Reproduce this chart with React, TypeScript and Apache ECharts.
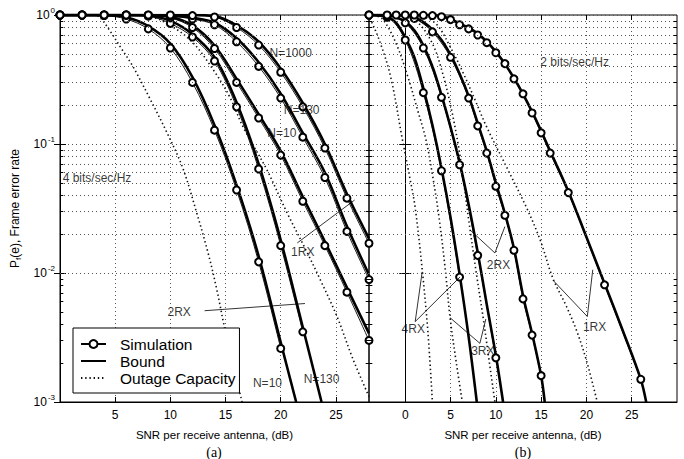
import React, { useEffect, useRef } from "react";
import * as echarts from "echarts";

const FONT = '"Liberation Sans", Arial, Helvetica, sans-serif';
const SERIF = '"Liberation Serif", "DejaVu Serif", serif';

// ---------- Panel (a): 4 bits/sec/Hz ----------
const snrA = [0, 2, 4, 6, 8, 10, 12, 14, 16, 18, 20, 22, 24, 26, 28];
const simA2rxN10 = [1, 1, 0.99, 0.93, 0.78, 0.555, 0.3, 0.128, 0.044, 0.0122, 0.0026];
const simA2rxN130 = [1, 1, 1, 1, 0.98, 0.86, 0.675, 0.44, 0.194, 0.064, 0.0163, 0.0035];
const simA1rxN10 = [1, 1, 1, 1, 0.99, 0.95, 0.8, 0.55, 0.3, 0.159, 0.082, 0.036, 0.0163, 0.0071, 0.003];
const simA1rxN130 = [1, 1, 1, 1, 1, 0.98, 0.93, 0.84, 0.62, 0.4, 0.227, 0.113, 0.055, 0.021, 0.0089];
const simA1rxN1000 = [1, 1, 1, 1, 1, 1, 0.99, 0.965, 0.8, 0.585, 0.36, 0.194, 0.093, 0.038, 0.017];

const bndA2rxN10X = [0, 2, 4, 6, 8, 10, 12, 14, 16, 18, 20, 21.4];
const bndA2rxN10 = [1, 1, 1, 0.96, 0.82, 0.6, 0.33, 0.14, 0.048, 0.0135, 0.0029, 0.001];
const bndA2rxN130X = [0, 2, 4, 6, 8, 10, 12, 14, 16, 18, 20, 22, 23.7];
const bndA2rxN130 = [1, 1, 1, 1, 0.99, 0.9, 0.71, 0.47, 0.21, 0.07, 0.018, 0.0038, 0.001];
const bndA1rxN10 = [1, 1, 1, 1, 1, 0.97, 0.83, 0.58, 0.32, 0.17, 0.088, 0.039, 0.0175, 0.0077, 0.0034];
const bndA1rxN130 = [1, 1, 1, 1, 1, 0.99, 0.95, 0.87, 0.66, 0.43, 0.245, 0.122, 0.06, 0.023, 0.0097];
const bndA1rxN1000 = [1, 1, 1, 1, 1, 1, 1, 0.98, 0.83, 0.62, 0.385, 0.208, 0.1, 0.041, 0.0185];

const outA2rxX = [3, 3.6, 4.5, 5.5, 6.6, 8.2, 9.7, 11.1, 12.4, 13.4, 14.2, 14.9, 15.7, 16.5];
const outA2rx = [1, 0.96, 0.76, 0.56, 0.4, 0.22, 0.122, 0.066, 0.029, 0.0145, 0.0075, 0.0038, 0.0019, 0.001];
const outA1rxX = [7.5, 9.1, 11.8, 13.9, 15.4, 16.6, 18.75, 20.6, 22.4, 23.6, 25.1, 26.5, 28];
const outA1rx = [1, 0.915, 0.64, 0.375, 0.23, 0.135, 0.063, 0.029, 0.0144, 0.0088, 0.0046, 0.0022, 0.0011];

// ---------- Panel (b): 2 bits/sec/Hz ----------
const snrB4 = [-4, -2, 0, 2, 4, 6];
const simB4rx = [1, 0.96, 0.64, 0.25, 0.062, 0.0093];
const snrB3 = [-4, -2, 0, 2, 4, 6, 8, 10];
const simB3rx = [1, 0.99, 0.87, 0.555, 0.23, 0.069, 0.0137, 0.0022];
const snrB2 = [-4, -2, -1, 1, 3, 5, 7, 8, 9, 10, 11, 12, 13, 14, 15];
const simB2rx = [1, 1, 1, 0.94, 0.74, 0.47, 0.227, 0.138, 0.085, 0.047, 0.028, 0.015, 0.0063, 0.0033, 0.0016];
const snrB1 = [0, 1, 2, 3, 4, 5, 6, 7, 8, 9, 10, 11, 12, 13, 14, 15, 16, 18, 22, 26];
const simB1rx = [1, 1, 0.995, 0.99, 0.97, 0.92, 0.84, 0.78, 0.7, 0.61, 0.51, 0.42, 0.32, 0.245, 0.174, 0.122, 0.085, 0.042, 0.0081, 0.0015];

const bndB4X = [-4, -3, -2, -1, 0, 1, 2, 3, 4, 5, 6, 7, 7.9];
const bndB4 = [1, 0.99, 0.97, 0.87, 0.67, 0.47, 0.27, 0.14, 0.065, 0.027, 0.0098, 0.0032, 0.001];
const bndB3X = [-4, -2, -1, 0, 1, 2, 3, 4, 5, 6, 7, 8, 9, 10, 10.8];
const bndB3 = [1, 1, 0.96, 0.89, 0.76, 0.58, 0.4, 0.24, 0.135, 0.072, 0.034, 0.0145, 0.0057, 0.0023, 0.001];
const bndB2X = [-4, -1, 0, 1, 2, 3, 4, 5, 6, 7, 8, 9, 10, 11, 12, 13, 14, 15, 15.4];
const bndB2 = [1, 1, 0.99, 0.96, 0.88, 0.77, 0.64, 0.49, 0.35, 0.235, 0.145, 0.088, 0.05, 0.029, 0.0155, 0.0067, 0.0034, 0.0016, 0.001];
const bndB1X = [-4, 0, 2, 4, 6, 8, 10, 12, 14, 16, 18, 20, 22, 24, 26, 26.6];
const bndB1 = [1, 1, 1, 0.98, 0.86, 0.72, 0.52, 0.325, 0.178, 0.088, 0.043, 0.019, 0.0083, 0.0036, 0.0015, 0.001];

const outB4X = [-4.2, -3.8, -2.8, -1.6, -0.3, 0.5, 1.1, 1.9, 2.5, 3];
const outB4 = [1, 0.91, 0.62, 0.33, 0.107, 0.055, 0.032, 0.0102, 0.0035, 0.001];
const outB3X = [-3.5, -2.5, -1, 0.3, 1.3, 2.3, 3, 3.7, 4.4, 4.95, 5.6, 6.3];
const outB3 = [1, 0.93, 0.6, 0.33, 0.19, 0.107, 0.058, 0.028, 0.011, 0.0045, 0.0021, 0.001];
const outB2X = [-1.5, 0, 1.5, 3, 4, 5, 6, 7, 7.8, 8.6, 9.3, 9.9];
const outB2 = [1, 0.97, 0.86, 0.6, 0.38, 0.2, 0.085, 0.026, 0.0105, 0.0045, 0.002, 0.001];
const outB1X = [0, 2, 3.5, 5, 6.4, 7.7, 9, 11.2, 13.4, 14.9, 16.3, 17.8, 18.9, 20, 21.2];
const outB1 = [1, 0.97, 0.84, 0.56, 0.355, 0.22, 0.135, 0.066, 0.032, 0.018, 0.0091, 0.0055, 0.0036, 0.0021, 0.001];

// ---------- Annotations (data coordinates) ----------
const textA = ["4 bits/sec/Hz", "N=1000", "N=130", "N=10", "1RX", "2RX", "N=10", "N=130"];
const textAX = [3.35, 20.9, 21.9, 20.1, 22.0, 10.8, 18.8, 23.7];
const textAY = [0.0546, 0.508, 0.183, 0.122, 0.0145, 0.005, 0.00141, 0.00151];
const textB = ["2 bits/sec/Hz", "4RX", "3RX", "2RX", "1RX"];
const textBX = [18.7, 0.88, 8.57, 10.3, 20.9];
const textBY = [0.432, 0.00365, 0.0025, 0.0116, 0.0038];

const leadersA: number[][][] = [
  [[21.5, 0.0171], [26.7, 0.0368]],
  [[13.1, 0.0051], [22.2, 0.0058]],
];
const leadersB: number[][][] = [
  [[1.87, 0.0102], [1.1, 0.0042], [6.04, 0.0093]],
  [[4.95, 0.0045], [8.24, 0.00285], [8.9, 0.0044]],
  [[7.14, 0.0216], [9.9, 0.0143], [11.0, 0.0229]],
  [[16.3, 0.0088], [20.1, 0.0046], [20.7, 0.0106]],
];

const tickValsA = [5, 10, 15, 20, 25];
const tickValsB = [0, 5, 10, 15, 20, 25];

// x extents of each panel and the length of the short minor ticks (in dB)
const rangeA: [number, number] = [0, 28];
const rangeB: [number, number] = [-4, 30];
const minorTickLenA = 0.3;
const minorTickLenB = 0.37;

const zip = (xs: number[], ys: number[]) => ys.map((y, i) => [xs[i], y]);

const minorGrid: number[] = [];
for (const dec of [0.001, 0.01, 0.1]) {
  for (let m = 2; m <= 9; m++) minorGrid.push(Number((m * dec).toPrecision(3)));
}

const GRID_LINE = { type: [1, 3] as any, color: "#555", width: 1 };
const SMOOTH = 0.35;

function simSeries(xs: number[], ys: number[], g: number) {
  return {
    type: "line",
    name: "Simulation",
    xAxisIndex: g,
    yAxisIndex: g,
    data: zip(xs, ys),
    symbol: "emptyCircle",
    symbolSize: 7,
    smooth: SMOOTH,
    lineStyle: { color: "#000", width: 0.9 },
    itemStyle: { color: "#000", borderColor: "#000", borderWidth: 0.9 },
    z: 4,
    silent: true,
  };
}

function boundSeries(xs: number[], ys: number[], g: number) {
  return {
    type: "line",
    name: "Bound",
    xAxisIndex: g,
    yAxisIndex: g,
    data: zip(xs, ys),
    symbol: "none",
    showSymbol: false,
    smooth: SMOOTH,
    lineStyle: { color: "#000", width: 2.6 },
    itemStyle: { color: "#000" },
    z: 3,
    silent: true,
  };
}

function outageSeries(xs: number[], ys: number[], g: number) {
  return {
    type: "line",
    name: "Outage Capacity",
    xAxisIndex: g,
    yAxisIndex: g,
    data: zip(xs, ys),
    symbol: "none",
    showSymbol: false,
    smooth: SMOOTH,
    lineStyle: { color: "#111", width: 1.6, type: [1.4, 2.8] },
    itemStyle: { color: "#111" },
    z: 3,
    silent: true,
  };
}

function leaderSeries(pts: number[][], g: number) {
  return {
    type: "line",
    name: "leader",
    xAxisIndex: g,
    yAxisIndex: g,
    data: pts,
    symbol: "none",
    showSymbol: false,
    lineStyle: { color: "#000", width: 0.8 },
    z: 5,
    silent: true,
  };
}

function textSeries(texts: string[], xs: number[], ys: number[], g: number) {
  return {
    type: "scatter",
    name: "notes",
    xAxisIndex: g,
    yAxisIndex: g,
    symbolSize: 1,
    itemStyle: { color: "transparent" },
    data: texts.map((t, i) => ({ value: [xs[i], ys[i]], name: t })),
    label: {
      show: true,
      position: "inside",
      formatter: "{b}",
      color: "#000",
      fontSize: 12,
      fontFamily: FONT,
    },
    z: 6,
    silent: true,
  };
}

// dotted minor grid lines plus short inside minor ticks on both vertical edges
function gridHelper(g: number, range: [number, number], len: number) {
  const ticks: any[] = [];
  for (const v of minorGrid) {
    ticks.push([{ coord: [range[0], v] }, { coord: [range[0] + len, v] }]);
    ticks.push([{ coord: [range[1] - len, v] }, { coord: [range[1], v] }]);
  }
  return [
    {
      type: "line",
      name: "minor-grid",
      xAxisIndex: g,
      yAxisIndex: g,
      data: [],
      markLine: {
        silent: true,
        symbol: ["none", "none"],
        label: { show: false },
        lineStyle: GRID_LINE,
        data: minorGrid.map((v) => ({ yAxis: v })),
      },
    },
    {
      type: "line",
      name: "minor-ticks",
      xAxisIndex: g,
      yAxisIndex: g,
      data: [],
      markLine: {
        silent: true,
        symbol: ["none", "none"],
        label: { show: false },
        lineStyle: { type: "solid", color: "#000", width: 1 },
        data: ticks,
      },
    },
  ];
}

const yLabel = (v: number) => `{b|10}{s|${Math.round(Math.log10(v))}}`;

function xAxisBottom(g: number, range: [number, number], ticks: number[]) {
  return {
    type: "value",
    gridIndex: g,
    min: range[0],
    max: range[1],
    position: "bottom",
    name: "SNR per receive antenna, (dB)",
    nameLocation: "middle",
    nameGap: 27,
    nameTextStyle: { fontFamily: FONT, fontSize: 11.5, color: "#000" },
    axisLine: { show: true, lineStyle: { color: "#000", width: 1 } },
    axisTick: { show: true, inside: true, length: 5, customValues: ticks, lineStyle: { color: "#000" } },
    axisLabel: { show: true, customValues: ticks, color: "#000", fontFamily: FONT, fontSize: 12, margin: 7 },
    splitLine: { show: true, lineStyle: GRID_LINE },
  };
}

function xAxisTop(g: number, range: [number, number], ticks: number[]) {
  return {
    type: "value",
    gridIndex: g,
    min: range[0],
    max: range[1],
    position: "top",
    axisLine: { show: false },
    axisTick: { show: true, inside: true, length: 5, customValues: ticks, lineStyle: { color: "#000" } },
    axisLabel: { show: false },
    splitLine: { show: false },
  };
}

function yAxisLeft(g: number, labels: boolean) {
  return {
    type: "log",
    logBase: 10,
    gridIndex: g,
    min: 0.001,
    max: 1,
    position: "left",
    name: labels ? "{t|P}{s|f}{t|(e), Frame error rate}" : "",
    nameLocation: "middle",
    nameGap: 38,
    nameTextStyle: {
      rich: {
        t: { fontFamily: FONT, fontSize: 12, color: "#000" },
        s: { fontFamily: FONT, fontSize: 8, color: "#000", padding: [7, 0, 0, 0] },
      },
    },
    axisLine: { show: true, lineStyle: { color: "#000", width: 1 } },
    axisTick: { show: true, inside: true, length: 6, lineStyle: { color: "#000" } },
    axisLabel: {
      show: labels,
      formatter: yLabel,
      margin: 5,
      rich: {
        b: { fontFamily: FONT, fontSize: 12, color: "#000" },
        s: { fontFamily: FONT, fontSize: 8, color: "#000", padding: [0, 0, 9, 1] },
      },
    },
    splitLine: { show: true, lineStyle: GRID_LINE },
  };
}

function yAxisRight(g: number) {
  return {
    type: "log",
    logBase: 10,
    gridIndex: g,
    min: 0.001,
    max: 1,
    position: "right",
    axisLine: { show: false },
    axisTick: { show: true, inside: true, length: 6, lineStyle: { color: "#000" } },
    axisLabel: { show: false },
    splitLine: { show: false },
  };
}

function buildOption(): any {
  const series: any[] = [
    ...gridHelper(0, rangeA, minorTickLenA),
    ...gridHelper(1, rangeB, minorTickLenB),
    // panel (a)
    outageSeries(outA2rxX, outA2rx, 0),
    outageSeries(outA1rxX, outA1rx, 0),
    boundSeries(bndA2rxN10X, bndA2rxN10, 0),
    boundSeries(bndA2rxN130X, bndA2rxN130, 0),
    boundSeries(snrA, bndA1rxN10, 0),
    boundSeries(snrA, bndA1rxN130, 0),
    boundSeries(snrA, bndA1rxN1000, 0),
    simSeries(snrA, simA2rxN10, 0),
    simSeries(snrA, simA2rxN130, 0),
    simSeries(snrA, simA1rxN10, 0),
    simSeries(snrA, simA1rxN130, 0),
    simSeries(snrA, simA1rxN1000, 0),
    // panel (b)
    outageSeries(outB4X, outB4, 1),
    outageSeries(outB3X, outB3, 1),
    outageSeries(outB2X, outB2, 1),
    outageSeries(outB1X, outB1, 1),
    boundSeries(bndB4X, bndB4, 1),
    boundSeries(bndB3X, bndB3, 1),
    boundSeries(bndB2X, bndB2, 1),
    boundSeries(bndB1X, bndB1, 1),
    simSeries(snrB4, simB4rx, 1),
    simSeries(snrB3, simB3rx, 1),
    simSeries(snrB2, simB2rx, 1),
    simSeries(snrB1, simB1rx, 1),
    ...leadersA.map((p) => leaderSeries(p, 0)),
    ...leadersB.map((p) => leaderSeries(p, 1)),
    textSeries(textA, textAX, textAY, 0),
    textSeries(textB, textBX, textBY, 1),
  ];

  return {
    animation: false,
    backgroundColor: "#fff",
    textStyle: { fontFamily: FONT },
    grid: [
      { left: 60, top: 15, width: 309, height: 387, show: true, borderColor: "#000", borderWidth: 1, backgroundColor: "transparent" },
      { left: 369, top: 15, width: 308, height: 387, show: true, borderColor: "#000", borderWidth: 1, backgroundColor: "transparent" },
    ],
    xAxis: [
      xAxisBottom(0, rangeA, tickValsA),
      xAxisBottom(1, rangeB, tickValsB),
      xAxisTop(0, rangeA, tickValsA),
      xAxisTop(1, rangeB, tickValsB),
    ],
    yAxis: [yAxisLeft(0, true), yAxisLeft(1, false), yAxisRight(0), yAxisRight(1)],
    legend: {
      data: [
        { name: "Simulation" },
        { name: "Bound", itemStyle: { opacity: 0 } },
        { name: "Outage Capacity", itemStyle: { opacity: 0 } },
      ],
      orient: "vertical",
      left: 73,
      top: 328,
      backgroundColor: "#fff",
      borderColor: "#000",
      borderWidth: 1,
      borderRadius: 0,
      padding: [8, 4, 7, 7],
      itemGap: 1,
      itemWidth: 25,
      itemHeight: 10,
      selectedMode: false,
      textStyle: { fontFamily: FONT, fontSize: 15.5, color: "#000", padding: [0, 0, 0, 9], lineHeight: 16 },
      z: 10,
    },
    graphic: [
      { type: "text", x: 214, y: 452, style: { text: "(a)", font: `14px ${SERIF}`, align: "center", verticalAlign: "middle", fill: "#000" } },
      { type: "text", x: 523, y: 452, style: { text: "(b)", font: `14px ${SERIF}`, align: "center", verticalAlign: "middle", fill: "#000" } },
    ],
    series,
  };
}

export default function App() {
  const ref = useRef<HTMLDivElement>(null);
  useEffect(() => {
    const chart = echarts.init(ref.current!, undefined, { renderer: "svg" });
    chart.setOption(buildOption());
    return () => chart.dispose();
  }, []);
  return (
    <div
      ref={ref}
      style={{ position: "fixed", left: 0, top: 0, width: 684, height: 459, background: "#fff" }}
    />
  );
}
